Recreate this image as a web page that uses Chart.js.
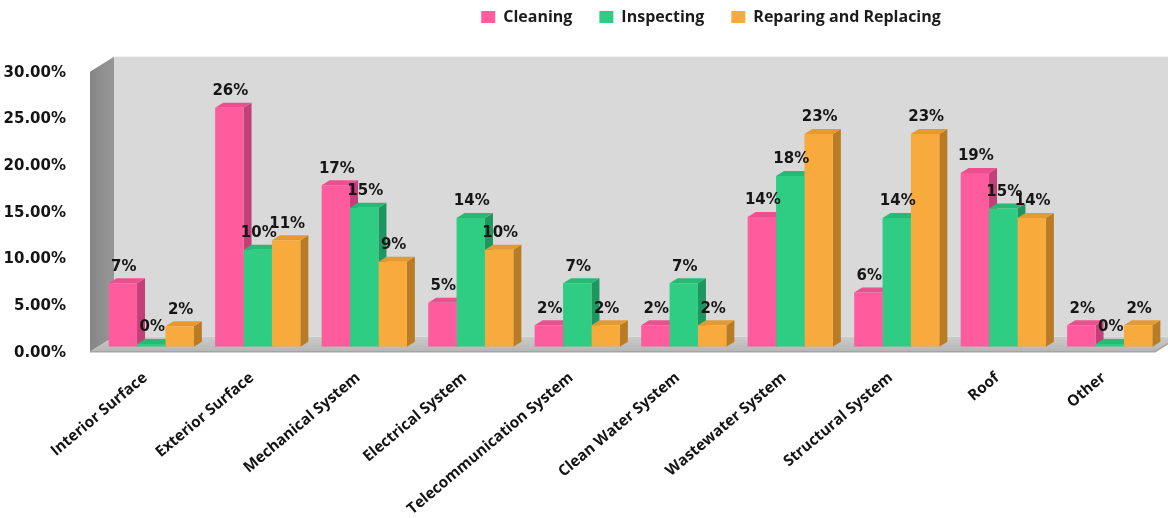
<!DOCTYPE html>
<html>
<head>
<meta charset="utf-8">
<title>Maintenance activities by building component</title>
<script src="https://cdn.jsdelivr.net/npm/chart.js@4.4.1/dist/chart.umd.min.js"></script>
<style>
  html, body { margin: 0; padding: 0; background: #ffffff; }
  canvas { display: block; }
</style>
</head>
<body>
<canvas id="chart" width="1168" height="518"></canvas>
<script>
// ---- data -------------------------------------------------------------
const categories = [
  'Interior Surface', 'Exterior Surface', 'Mechanical System', 'Electrical System',
  'Telecommunication System', 'Clean Water System', 'Wastewater System',
  'Structural System', 'Roof', 'Other'
];
const seriesNames = ['Cleaning', 'Inspecting', 'Reparing and Replacing'];
const cleaning   = [6.8, 25.6, 17.3, 4.7, 2.3, 2.3, 13.9, 5.8, 18.6, 2.3];
const inspecting = [0.3, 10.4, 14.9, 13.8, 6.8, 6.8, 18.3, 13.8, 14.8, 0.3];
const repairing  = [2.2, 11.4, 9.1, 10.4, 2.3, 2.3, 22.8, 22.8, 13.8, 2.3];
const yTickValues = [0, 5, 10, 15, 20, 25, 30];

// ---- styling ----------------------------------------------------------
const frontColors = ['#ff5c9e', '#2fcd83', '#f8aa3d'];
const sideColors  = ['#c23f77', '#1f9660', '#b97b23'];
const topColors   = ['#ec4f8d', '#28b974', '#e49a30'];
const BAR_DX = 8, BAR_DY = -5;      // depth of each bar
const BOX_FRONT = [-8, 5];          // front edge of walls/floor relative to bar plane
const BOX_BACK = [16, -10];         // back edge of walls/floor relative to bar plane

const poly = (ctx, pts, fill) => {
  ctx.beginPath();
  ctx.moveTo(pts[0][0], pts[0][1]);
  for (let i = 1; i < pts.length; i++) ctx.lineTo(pts[i][0], pts[i][1]);
  ctx.closePath();
  ctx.fillStyle = fill;
  ctx.fill();
};

// Walls, floor and the side/top faces of the bars (fronts are drawn by Chart.js)
const box3d = {
  id: 'box3d',
  beforeDatasetsDraw(chart) {
    const ctx = chart.ctx;
    const a = chart.chartArea;
    const fl = a.left + BOX_FRONT[0], fr = a.right + BOX_FRONT[0];
    const ft = a.top + BOX_FRONT[1], fb = a.bottom + BOX_FRONT[1];
    const bl = a.left + BOX_BACK[0], br = a.right + BOX_BACK[0];
    const bt = a.top + BOX_BACK[1], bb = a.bottom + BOX_BACK[1];
    ctx.save();
    // back wall
    ctx.fillStyle = '#d9d9d9';
    ctx.fillRect(bl, bt, br - bl, bb - bt);
    // left wall
    const lg = ctx.createLinearGradient(fl, 0, bl, 0);
    lg.addColorStop(0, '#868686');
    lg.addColorStop(1, '#979797');
    poly(ctx, [[fl, ft], [bl, bt], [bl, bb], [fl, fb]], lg);
    // floor
    const fg = ctx.createLinearGradient(0, bb, 0, fb);
    fg.addColorStop(0, '#cbcbcb');
    fg.addColorStop(1, '#b6b6b6');
    poly(ctx, [[fl, fb], [bl, bb], [br, bb], [fr, fb]], fg);
    ctx.strokeStyle = '#a4a4a4';
    ctx.lineWidth = 1.5;
    ctx.beginPath();
    ctx.moveTo(fl, fb); ctx.lineTo(fr, fb); ctx.lineTo(br, bb);
    ctx.stroke();

    // bar sides and tops
    chart.data.datasets.forEach((ds, di) => {
      const meta = chart.getDatasetMeta(di);
      meta.data.forEach(bar => {
        const p = bar.getProps(['x', 'y', 'base', 'width'], true);
        const l = p.x - p.width / 2, r = p.x + p.width / 2;
        const t = Math.min(p.y, p.base), b = Math.max(p.y, p.base);
        poly(ctx, [[r, t], [r + BAR_DX, t + BAR_DY], [r + BAR_DX, b + BAR_DY], [r, b]], sideColors[di]);
        poly(ctx, [[l, t], [r, t], [r + BAR_DX, t + BAR_DY], [l + BAR_DX, t + BAR_DY]], topColors[di]);
      });
    });
    ctx.restore();
  }
};

// Percentage labels above each bar
const valueLabels = {
  id: 'valueLabels',
  afterDatasetsDraw(chart) {
    const ctx = chart.ctx;
    ctx.save();
    ctx.font = 'bold 15px "DejaVu Sans"';
    ctx.fillStyle = '#161616';
    ctx.textAlign = 'center';
    ctx.textBaseline = 'middle';
    chart.data.datasets.forEach((ds, di) => {
      chart.getDatasetMeta(di).data.forEach((bar, i) => {
        const p = bar.getProps(['x', 'y'], true);
        ctx.fillText(Math.round(ds.data[i]) + '%', p.x + 1, p.y - 16.5);
      });
    });
    ctx.restore();
  }
};

// Legend sits right of centre and close to the top edge
const legendPlacement = {
  id: 'legendPlacement',
  beforeLayout(chart) {
    const lg = chart.legend;
    if (lg && !lg.__fitWrapped) {
      const baseFit = lg.fit;
      lg.fit = function () { baseFit.call(this); this.height = 66.7; };
      lg.__fitWrapped = true;
    }
  },
  afterLayout(chart) {
    const lg = chart.legend;
    if (!lg) return;
    const dx = 711 - (lg.left + lg.right) / 2;
    lg.left += dx; lg.right += dx;
    lg.top -= 18; lg.bottom -= 18;
  }
};

const seriesData = [cleaning, inspecting, repairing];

new Chart(document.getElementById('chart'), {
  type: 'bar',
  data: {
    labels: categories,
    datasets: seriesNames.map((name, i) => ({
      label: name,
      data: seriesData[i],
      backgroundColor: frontColors[i],
      borderWidth: 0,
      categoryPercentage: 0.8,
      barPercentage: 1.0
    }))
  },
  options: {
    responsive: false,
    animation: false,
    devicePixelRatio: 1,
    layout: { padding: { left: 0, right: 5, top: 0, bottom: 0 } },
    plugins: {
      tooltip: { enabled: false },
      legend: {
        position: 'top',
        align: 'center',
        labels: {
          boxWidth: 14,
          boxHeight: 12,
          padding: 27,
          color: '#1c1c1c',
          font: { family: '"Open Sans"', weight: 'bold', size: 16 }
        }
      }
    },
    scales: {
      x: {
        grid: { display: false },
        border: { display: false },
        ticks: {
          autoSkip: false,
          minRotation: 40,
          maxRotation: 40,
          padding: 14,
          labelOffset: -6,
          color: '#141414',
          font: { family: '"Open Sans"', weight: 'bold', size: 15.3 }
        },
        afterFit(scale) { scale.height = 171.3; }
      },
      y: {
        min: yTickValues[0],
        max: yTickValues[yTickValues.length - 1],
        grid: { display: false },
        border: { display: false },
        afterBuildTicks(scale) { scale.ticks = yTickValues.map(v => ({ value: v })); },
        ticks: {
          padding: 24,
          labelOffset: 6,
          color: '#141414',
          font: { family: '"DejaVu Sans"', weight: 'bold', size: 15 },
          callback: v => v.toFixed(2) + '%'
        },
        afterFit(scale) { scale.width = 98; }
      }
    }
  },
  plugins: [legendPlacement, box3d, valueLabels]
});
</script>
</body>
</html>
